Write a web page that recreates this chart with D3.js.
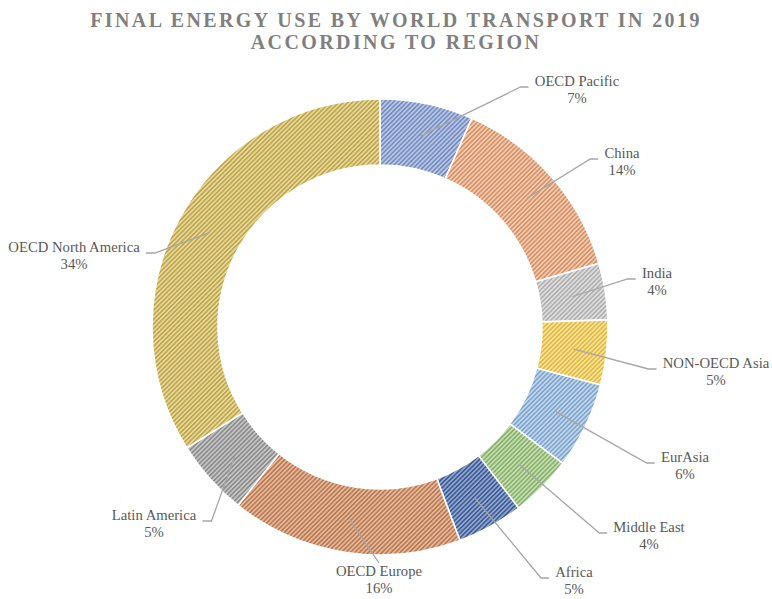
<!DOCTYPE html>
<html>
<head>
<meta charset="utf-8">
<script src="https://cdn.jsdelivr.net/npm/d3@7"></script>
<style>
  html, body { margin: 0; padding: 0; background: #fff; }
  svg { display: block; }
</style>
</head>
<body>
<svg id="chart" width="772" height="599"></svg>
<script>
// ---------- data ----------
const titleLines = ["FINAL ENERGY USE BY WORLD TRANSPORT IN 2019", "ACCORDING TO REGION"];
const categories = ["OECD Pacific", "China", "India", "NON-OECD Asia", "EurAsia",
                    "Middle East", "Africa", "OECD Europe", "Latin America", "OECD North America"];
const shares = [6.6, 13.9, 4.0, 4.6, 6.1, 4.4, 4.7, 16.4, 5.4, 33.9];

// ---------- style / layout ----------
const sliceColors = ["#87A0D8", "#F0A676", "#C8C8C8", "#FFD24E", "#93BCE6",
                     "#9CC97A", "#4568AC", "#D4895A", "#9E9E9E", "#D8BD55"];
// label anchor offsets from the donut centre: [dx of text centre, dy of first baseline]
const labelOffsets = [[197, -241], [242, -169], [277, -49], [336, 41], [305, 135],
                      [269, 205], [194, 250], [-1, 249], [-226, 193], [-306, -75]];
const labelAttach = ["left", "left", "left", "left", "left", "left", "left", "top", "right", "right"];

const W = 772, H = 599;
const cx = 380, cy = 327, outerR = 228, innerR = 162;
const serif = "'Liberation Serif', 'Times New Roman', Times, serif";

const svg = d3.select("#chart");
const defs = svg.append("defs");

sliceColors.forEach((c, i) => {
  const stripe = d3.interpolateRgb(c, "#000")(0.12);
  const gap = d3.interpolateRgb(c, "#fff")(0.45);
  const p = defs.append("pattern")
    .attr("id", "hatch" + i)
    .attr("patternUnits", "userSpaceOnUse")
    .attr("width", 3.2).attr("height", 3.2)
    .attr("patternTransform", "rotate(45)");
  p.append("rect").attr("width", 3.2).attr("height", 3.2).attr("fill", gap);
  p.append("rect").attr("width", 1.7).attr("height", 3.2).attr("fill", stripe);
});

// title
const title = svg.append("text")
  .attr("text-anchor", "middle")
  .attr("font-family", serif)
  .attr("font-weight", "bold")
  .attr("font-size", 20)
  .attr("letter-spacing", 2.4)
  .attr("fill", "#7F7F7F");
titleLines.forEach((t, i) => {
  title.append("tspan").attr("x", 396).attr("y", 27 + i * 22).text(t);
});

const data = categories.map((name, i) => ({ name, value: shares[i], i }));
const total = d3.sum(shares);

const pie = d3.pie().value(d => d.value).sort(null);
const arcs = pie(data);
const arc = d3.arc().innerRadius(innerR).outerRadius(outerR);

const g = svg.append("g").attr("transform", `translate(${cx},${cy})`);

g.selectAll("path.slice")
  .data(arcs)
  .enter().append("path")
  .attr("class", "slice")
  .attr("d", arc)
  .attr("fill", d => `url(#hatch${d.data.i})`)
  .attr("stroke", "#fff")
  .attr("stroke-width", 1.6);

// labels + leader lines
const fontSize = 14.7;
const labelG = g.append("g");
arcs.forEach((a, k) => {
  const [ox, oy] = labelOffsets[k];
  const pct = Math.round(a.data.value / total * 100) + "%";
  const t = labelG.append("text")
    .attr("text-anchor", "middle")
    .attr("font-family", serif)
    .attr("font-size", fontSize)
    .attr("fill", "#595959");
  t.append("tspan").attr("x", ox).attr("y", oy).text(a.data.name);
  t.append("tspan").attr("x", ox).attr("y", oy + 17).text(pct);

  const w = t.node().getBBox().width;
  const c = arc.centroid(a);
  let pts;
  const mode = labelAttach[k];
  if (mode === "left") {
    const ax = ox - w / 2 - 6, ay = oy + 1;
    pts = [c, [ax - 8, ay], [ax, ay]];
  } else if (mode === "right") {
    const ax = ox + w / 2 + 6, ay = oy + 1;
    pts = [c, [ax + 9, ay], [ax, ay]];
  } else {
    const ax = ox, ay = oy - 13;
    pts = [c, [ax, ay]];
  }
  labelG.insert("path", "text")
    .attr("d", d3.line()(pts))
    .attr("fill", "none")
    .attr("stroke", "#A6A6A6")
    .attr("stroke-width", 1.3);
});
</script>
</body>
</html>
